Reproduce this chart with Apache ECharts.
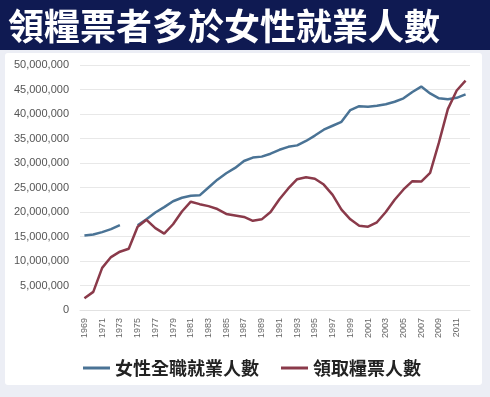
<!DOCTYPE html>
<html>
<head>
<meta charset="utf-8">
<script src="https://cdn.jsdelivr.net/npm/echarts@6/dist/echarts.min.js"></script>
<style>
  html, body { margin: 0; padding: 0; background: #eceef5; }
  #chart { width: 490px; height: 397px; }
</style>
</head>
<body>
<div id="chart"></div>
<script>
// years 1969 - 2012
const years = [];
for (let y = 1969; y <= 2012; y++) years.push(String(y));

// 女性全職就業人數 (millions), 1974 missing
const womenFullTime = [
  15.2, 15.4, 15.9, 16.5, 17.3, null, 17.3, 18.5, 19.9, 21.0,
  22.2, 22.9, 23.3, 23.4, 25.0, 26.6, 27.9, 29.0, 30.4, 31.1,
  31.3, 31.9, 32.7, 33.3, 33.6, 34.5, 35.6, 36.8, 37.6, 38.4,
  40.8, 41.6, 41.5, 41.7, 42.0, 42.5, 43.2, 44.5, 45.6, 44.2,
  43.2, 43.0, 43.3, 44.0
];

// 領取糧票人數 (millions)
const foodStamps = [
  2.4, 3.7, 8.6, 10.8, 11.9, 12.5, 17.0, 18.4, 16.7, 15.6,
  17.5, 20.1, 22.1, 21.6, 21.2, 20.6, 19.6, 19.3, 19.0, 18.2,
  18.5, 20.0, 22.6, 24.8, 26.7, 27.1, 26.8, 25.6, 23.5, 20.5,
  18.5, 17.2, 17.0, 17.9, 20.0, 22.5, 24.6, 26.3, 26.2, 28.0,
  34.2, 41.0, 44.8, 46.8
];

const toPeople = arr => arr.map(v => v == null ? null : Math.round(v * 1000000));

const chart = echarts.init(document.getElementById('chart'), null, { renderer: 'canvas' });

const option = {
  backgroundColor: '#eceef5',
  animation: false,
  graphic: [
    { type: 'rect', shape: { x: 0, y: 0, width: 490, height: 50 }, style: { fill: '#0f1a52' }, z: -10 },
    { type: 'rect', shape: { x: 5, y: 53, width: 477, height: 332, r: 3 }, style: { fill: '#ffffff' }, z: -10 }
  ],
  title: {
    text: '領糧票者多於女性就業人數',
    left: 8,
    top: 8,
    padding: 0,
    textStyle: {
      color: '#ffffff',
      fontSize: 36,
      fontWeight: 'bold',
      fontFamily: '"Noto Sans CJK TC", sans-serif'
    }
  },
  legend: {
    left: 78,
    top: 354,
    itemWidth: 27,
    itemHeight: 3,
    itemGap: 22,
    icon: 'rect',
    textStyle: {
      color: '#222222',
      fontSize: 18,
      fontWeight: 'bold',
      fontFamily: '"Noto Sans CJK TC", sans-serif'
    },
    data: ['女性全職就業人數', '領取糧票人數']
  },
  grid: { left: 80, right: 20, top: 65, bottom: 87 },
  xAxis: {
    type: 'category',
    data: years,
    boundaryGap: true,
    axisLine: { lineStyle: { color: '#e2e2e2' } },
    axisTick: { show: false },
    axisLabel: {
      interval: 1,
      rotate: 90,
      margin: 8,
      color: '#666666',
      fontSize: 9,
      fontFamily: '"Liberation Sans", Arial, sans-serif'
    }
  },
  yAxis: {
    type: 'value',
    min: 0,
    max: 50000000,
    interval: 5000000,
    axisLine: { show: false },
    axisTick: { show: false },
    splitLine: { lineStyle: { color: '#e8e8e8' } },
    axisLabel: {
      margin: 11,
      color: '#555555',
      fontSize: 11,
      fontFamily: '"Liberation Sans", Arial, sans-serif',
      formatter: v => String(v).replace(/\B(?=(\d{3})+(?!\d))/g, ',')
    }
  },
  series: [
    {
      name: '女性全職就業人數',
      type: 'line',
      data: toPeople(womenFullTime),
      showSymbol: false,
      connectNulls: false,
      lineStyle: { width: 2.5, color: '#4a7395' },
      itemStyle: { color: '#4a7395' }
    },
    {
      name: '領取糧票人數',
      type: 'line',
      data: toPeople(foodStamps),
      showSymbol: false,
      lineStyle: { width: 2.5, color: '#8a3a4a' },
      itemStyle: { color: '#8a3a4a' }
    }
  ]
};

chart.setOption(option);
</script>
</body>
</html>
